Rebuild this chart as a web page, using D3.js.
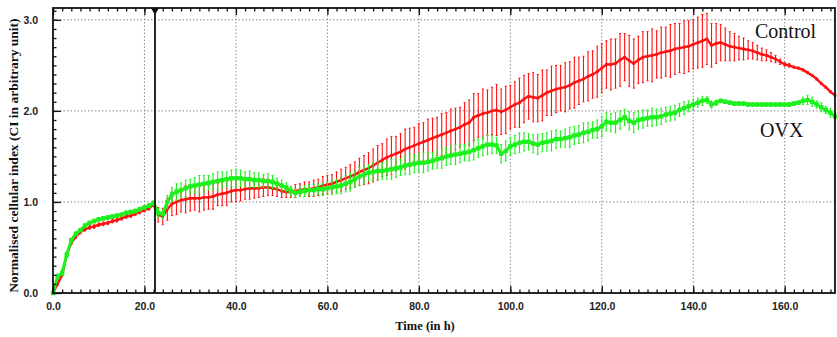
<!DOCTYPE html>
<html>
<head>
<meta charset="utf-8">
<script src="https://cdn.jsdelivr.net/npm/d3@7"></script>
<style>
  html, body { margin: 0; padding: 0; background: #fff; }
  svg { display: block; }
  .tick text { font-family: "Liberation Sans", Arial, sans-serif; font-weight: bold; font-size: 10.5px; fill: #222; }
</style>
</head>
<body>
<div id="chart"></div>
<script>
// readings every hour, 0 .. 171 h
const controlMean = [
  0.00,0.10,0.20,0.42,0.55,0.62,0.67,0.70,0.72,0.73,
  0.75,0.76,0.77,0.79,0.80,0.82,0.84,0.85,0.87,0.89,
  0.91,0.93,0.97,0.86,0.84,0.92,0.98,1.00,1.02,1.03,
  1.04,1.04,1.04,1.05,1.05,1.06,1.08,1.09,1.10,1.12,
  1.13,1.13,1.14,1.15,1.15,1.15,1.16,1.16,1.15,1.14,
  1.12,1.11,1.11,1.12,1.13,1.14,1.14,1.15,1.16,1.18,
  1.19,1.20,1.22,1.24,1.26,1.28,1.30,1.33,1.35,1.37,
  1.40,1.43,1.46,1.49,1.51,1.53,1.55,1.58,1.60,1.62,
  1.64,1.66,1.68,1.70,1.72,1.74,1.76,1.78,1.80,1.82,
  1.85,1.87,1.93,1.95,1.97,1.98,2.00,2.01,1.99,2.01,
  2.04,2.07,2.09,2.13,2.16,2.15,2.14,2.17,2.20,2.22,
  2.24,2.25,2.26,2.28,2.31,2.33,2.35,2.38,2.40,2.43,
  2.47,2.51,2.51,2.52,2.56,2.59,2.55,2.52,2.56,2.59,
  2.60,2.61,2.62,2.64,2.65,2.66,2.68,2.69,2.70,2.71,
  2.73,2.75,2.77,2.79,2.72,2.74,2.75,2.73,2.71,2.70,
  2.69,2.68,2.67,2.66,2.64,2.62,2.61,2.59,2.57,2.54,
  2.51,2.50,2.48,2.47,2.45,2.42,2.39,2.35,2.30,2.26,
  2.21,2.17
];
const controlErr = [
  0.01,0.02,0.02,0.03,0.02,0.02,0.02,0.02,0.02,0.02,0.02,0.02,0.02,0.02,0.02,0.02,0.02,0.02,0.02,0.02,0.02,0.02,0.02,
  0.08,0.09,
  0.12,0.13,0.14,0.13,0.15,0.14,0.13,0.15,0.14,0.13,0.14,0.12,0.13,0.14,0.12,0.13,0.12,0.11,0.12,0.11,0.10,0.10,0.09,0.08,0.08,0.07,
  0.06,0.06,0.07,0.07,0.08,0.08,0.09,0.09,0.10,0.10,
  0.10,0.11,0.12,0.12,0.13,0.14,0.15,0.16,0.17,0.18,
  0.19,0.18,0.20,0.21,0.19,0.20,0.22,0.21,0.20,0.22,0.21,0.23,0.22,0.21,0.23,0.22,0.24,0.23,0.22,0.24,
  0.25,0.26,0.24,0.27,0.25,0.26,0.28,0.25,0.26,0.24,
  0.25,0.27,0.26,0.25,0.27,0.26,0.28,0.25,0.27,0.26,0.25,0.27,0.26,0.28,0.26,0.25,0.27,0.26,0.28,0.27,
  0.26,0.28,0.27,0.29,0.26,0.28,0.27,0.26,0.28,0.27,0.29,0.26,0.28,0.27,0.29,0.28,0.27,0.29,0.28,0.27,
  0.28,0.29,0.28,0.24,0.22,0.20,
  0.18,0.16,0.15,0.13,0.12,0.10,0.09,0.08,0.07,
  0.06,0.05,0.04,0.03,0.02,0.02,0.01,0.01,0.01,0.01,0.01,0.01,0.01,0.01,0.01,0.01
];
const ovxMean = [
  0.00,0.18,0.22,0.42,0.58,0.65,0.69,0.74,0.77,0.79,
  0.81,0.82,0.83,0.84,0.85,0.86,0.88,0.89,0.90,0.92,
  0.94,0.96,0.99,0.88,0.87,1.00,1.08,1.11,1.13,1.15,
  1.17,1.18,1.19,1.20,1.21,1.22,1.23,1.24,1.25,1.26,
  1.26,1.26,1.25,1.25,1.24,1.24,1.23,1.23,1.22,1.20,
  1.18,1.16,1.12,1.10,1.11,1.12,1.13,1.13,1.14,1.14,
  1.15,1.16,1.17,1.18,1.20,1.22,1.25,1.28,1.30,1.32,
  1.33,1.34,1.34,1.35,1.36,1.37,1.38,1.40,1.41,1.42,
  1.43,1.43,1.44,1.45,1.47,1.48,1.50,1.51,1.52,1.53,
  1.54,1.55,1.57,1.59,1.61,1.63,1.63,1.62,1.53,1.56,
  1.61,1.63,1.65,1.66,1.66,1.64,1.63,1.65,1.66,1.67,
  1.69,1.69,1.70,1.71,1.73,1.74,1.76,1.77,1.79,1.80,
  1.83,1.88,1.87,1.87,1.90,1.93,1.89,1.87,1.90,1.91,
  1.92,1.93,1.93,1.94,1.96,1.97,1.98,2.01,2.03,2.05,
  2.07,2.09,2.11,2.12,2.07,2.09,2.11,2.10,2.09,2.08,
  2.08,2.08,2.07,2.07,2.07,2.07,2.07,2.07,2.07,2.07,
  2.07,2.07,2.08,2.09,2.11,2.12,2.10,2.07,2.04,2.01,
  1.98,1.94
];
const ovxErr = [
  0.01,0.03,0.03,0.03,0.02,0.02,0.02,0.02,0.02,0.02,0.02,0.02,0.02,0.02,0.02,0.02,0.02,0.02,0.02,0.02,0.02,0.02,0.02,
  0.05,0.05,
  0.07,0.08,0.09,0.08,0.09,0.08,0.09,0.10,0.09,0.08,0.09,0.10,0.09,0.08,0.09,0.10,0.09,0.08,0.09,0.08,0.08,0.07,0.08,0.07,0.06,0.06,
  0.05,0.05,0.05,0.05,0.06,0.06,0.06,0.06,0.07,0.07,
  0.08,0.08,0.09,0.09,0.10,0.09,0.10,0.10,0.09,0.10,0.10,0.09,0.10,0.11,0.10,0.09,0.10,0.11,0.10,0.10,
  0.11,0.10,0.09,0.10,0.11,0.10,0.10,0.11,0.10,0.09,0.10,0.11,0.10,0.10,0.11,0.10,0.09,0.10,0.11,0.10,
  0.10,0.11,0.10,0.09,0.10,0.11,0.10,0.10,0.11,0.10,0.09,0.10,0.11,0.10,0.10,0.11,0.10,0.09,0.10,0.11,
  0.10,0.10,0.11,0.10,0.09,0.10,0.11,0.10,0.10,0.09,0.10,0.09,0.09,0.08,0.08,0.08,0.07,0.07,0.06,0.06,
  0.05,0.05,0.04,0.04,0.03,
  0.02,0.02,0.02,0.02,0.02,0.02,0.02,0.02,0.02,0.02,0.02,0.02,0.02,0.02,0.02,0.02,0.02,0.02,
  0.04,0.05,0.05,0.04,0.05,0.04,0.05,0.04
];
const hours = controlMean.map((d, i) => i);
const xTicks = [0, 20, 40, 60, 80, 100, 120, 140, 160];
const yTicks = [0, 1, 2, 3];
const treatmentTime = 22.3;

const width = 837, height = 337;
const margin = { top: 8, right: 2, bottom: 44, left: 53 };

const svg = d3.select('#chart').append('svg')
  .attr('width', width)
  .attr('height', height);

const x = d3.scaleLinear().domain([0, 171]).range([margin.left, width - margin.right]);
const y = d3.scaleLinear().domain([0, 3.13]).range([height - margin.bottom, margin.top]);
const x0 = margin.left, x1 = width - margin.right, y0 = height - margin.bottom, y1 = margin.top;

// dotted grid
svg.append('g').selectAll('line').data(xTicks.slice(1)).enter().append('line')
  .attr('x1', d => x(d)).attr('x2', d => x(d)).attr('y1', y0).attr('y2', y1)
  .attr('stroke', '#8a8a8a').attr('stroke-width', 1).attr('stroke-dasharray', '1.5,2');
svg.append('g').selectAll('line').data(yTicks.slice(1)).enter().append('line')
  .attr('x1', x0).attr('x2', x1).attr('y1', d => y(d)).attr('y2', d => y(d))
  .attr('stroke', '#8a8a8a').attr('stroke-width', 1).attr('stroke-dasharray', '1.5,2');

// series
const series = [
  { name: 'Control', mean: controlMean, err: controlErr, color: '#ff1010', lw: 2.4, mark: 2.6 },
  { name: 'OVX', mean: ovxMean, err: ovxErr, color: '#1ef01e', lw: 3, mark: 4.4 }
];

const line = d3.line().x((d, i) => x(hours[i])).y(d => y(d));

series.forEach(s => {
  const g = svg.append('g');
  g.selectAll('line.bar').data(s.mean).enter().append('line')
    .attr('class', 'bar')
    .attr('x1', (d, i) => x(hours[i])).attr('x2', (d, i) => x(hours[i]))
    .attr('y1', (d, i) => y(d - s.err[i])).attr('y2', (d, i) => y(d + s.err[i]))
    .attr('stroke', s.color).attr('stroke-width', 1.1);
  g.selectAll('line.capt').data(s.mean).enter().append('line')
    .attr('x1', (d, i) => x(hours[i]) - 1).attr('x2', (d, i) => x(hours[i]) + 1)
    .attr('y1', (d, i) => y(d + s.err[i])).attr('y2', (d, i) => y(d + s.err[i]))
    .attr('stroke', s.color).attr('stroke-width', 1);
  g.selectAll('line.capb').data(s.mean).enter().append('line')
    .attr('x1', (d, i) => x(hours[i]) - 1).attr('x2', (d, i) => x(hours[i]) + 1)
    .attr('y1', (d, i) => y(d - s.err[i])).attr('y2', (d, i) => y(d - s.err[i]))
    .attr('stroke', s.color).attr('stroke-width', 1);
  g.append('path').datum(s.mean)
    .attr('d', line)
    .attr('fill', 'none').attr('stroke', s.color).attr('stroke-width', s.lw);
  g.selectAll('rect').data(s.mean).enter().append('rect')
    .attr('x', (d, i) => x(hours[i]) - s.mark / 2)
    .attr('y', d => y(d) - s.mark / 2)
    .attr('width', s.mark).attr('height', s.mark)
    .attr('fill', s.color);
});

// treatment marker
svg.append('line')
  .attr('x1', x(treatmentTime)).attr('x2', x(treatmentTime))
  .attr('y1', y1).attr('y2', y0)
  .attr('stroke', '#111').attr('stroke-width', 1.8);
svg.append('path')
  .attr('d', `M${x(treatmentTime) - 4},${y1} L${x(treatmentTime) + 4},${y1} L${x(treatmentTime)},${y1 + 7} Z`)
  .attr('fill', '#111');

// axes, ticks drawn inward
const fmt = d3.format('.1f');
svg.append('g').attr('transform', `translate(0,${y0})`)
  .call(d3.axisBottom(x).tickValues(d3.range(0, 171, 2)).tickSize(-3.5).tickFormat(''))
  .call(g => g.select('.domain').remove());
svg.append('g').attr('transform', `translate(0,${y0})`)
  .call(d3.axisBottom(x).tickValues(xTicks).tickSize(-7).tickPadding(10).tickFormat(fmt))
  .call(g => g.select('.domain').remove());
svg.append('g').attr('transform', `translate(0,${y1})`)
  .call(d3.axisTop(x).tickValues(d3.range(0, 171, 2)).tickSize(-3.5).tickFormat(''))
  .call(g => g.select('.domain').remove());
svg.append('g').attr('transform', `translate(0,${y1})`)
  .call(d3.axisTop(x).tickValues(xTicks).tickSize(-7).tickFormat(''))
  .call(g => g.select('.domain').remove());
svg.append('g').attr('transform', `translate(${x0},0)`)
  .call(d3.axisLeft(y).tickValues(d3.range(0, 3.11, 0.1)).tickSize(-3.5).tickFormat(''))
  .call(g => g.select('.domain').remove());
svg.append('g').attr('transform', `translate(${x0},0)`)
  .call(d3.axisLeft(y).tickValues(yTicks).tickSize(-8).tickPadding(15).tickFormat(fmt))
  .call(g => g.select('.domain').remove());
svg.selectAll('.tick line').attr('stroke', '#111').attr('stroke-width', 1.3);

svg.append('rect')
  .attr('x', x0).attr('y', y1).attr('width', x1 - x0).attr('height', y0 - y1)
  .attr('fill', 'none').attr('stroke', '#111').attr('stroke-width', 1.8);

// titles
svg.append('text')
  .attr('transform', `translate(18,${(y0 + y1) / 2 + 5}) rotate(-90)`)
  .attr('text-anchor', 'middle')
  .style('font-family', '"Liberation Serif", "Times New Roman", serif')
  .style('font-weight', 'bold').style('font-size', '13.5px').style('fill', '#111')
  .text('Normalised cellular index (CI in arbitrary unit)');
svg.append('text')
  .attr('x', 425).attr('y', 330)
  .attr('text-anchor', 'middle')
  .style('font-family', '"Liberation Serif", "Times New Roman", serif')
  .style('font-weight', 'bold').style('font-size', '12.5px').style('fill', '#111')
  .text('Time (in h)');

// series labels
svg.append('text').attr('x', 755).attr('y', 38)
  .style('font-family', '"Liberation Serif", "Times New Roman", serif')
  .style('font-size', '20px').style('fill', '#111').text('Control');
svg.append('text').attr('x', 760).attr('y', 137)
  .style('font-family', '"Liberation Serif", "Times New Roman", serif')
  .style('font-size', '20px').style('fill', '#111').text('OVX');
</script>
</body>
</html>
